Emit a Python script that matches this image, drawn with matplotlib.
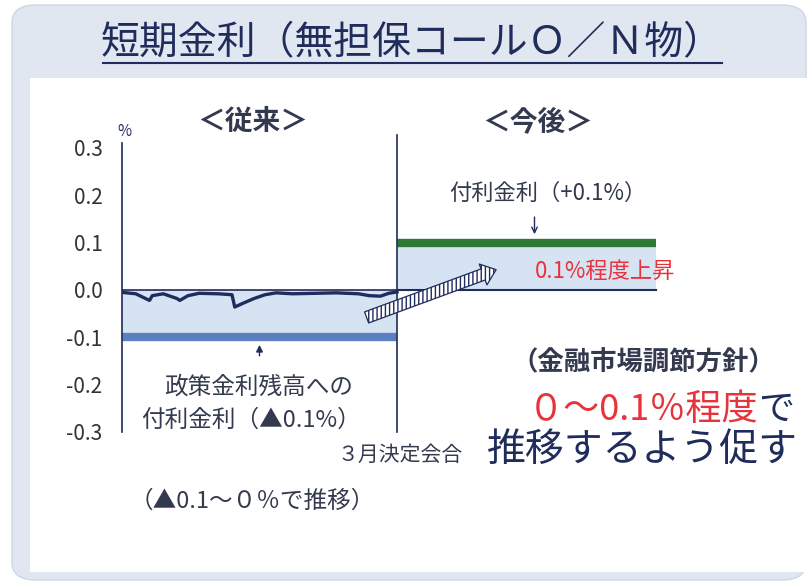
import matplotlib
matplotlib.use("Agg")
import matplotlib.pyplot as plt
from matplotlib.patches import FancyBboxPatch, Rectangle

plt.rcParams['font.family'] = ['Noto Sans CJK JP', 'DejaVu Sans']

# data: left period = 従来 (index 0-100), right period = 今後 (100-194)
old_x = [0, 5, 10, 11, 15, 20, 21, 24, 28, 35, 40, 41, 44, 48, 52, 56, 62, 70, 78, 86, 90, 94, 97, 100]
old_rate = [-0.005, -0.008, -0.022, -0.012, -0.008, -0.018, -0.022, -0.012, -0.007, -0.008, -0.010,
            -0.036, -0.028, -0.018, -0.010, -0.006, -0.008, -0.007, -0.006, -0.008, -0.012, -0.013,
            -0.007, -0.004]
old_start, old_end = 0, 100
new_start, new_end = 100, 194
old_ioer = -0.1      # 政策金利残高への付利金利
old_top = 0.0
new_ioer = 0.1       # 付利金利
new_floor = 0.0
yticks = [-0.3, -0.2, -0.1, 0.0, 0.1, 0.2, 0.3]
ytick_labels = ['-0.3', '-0.2', '-0.1', '0.0', '0.1', '0.2', '0.3']

navy = '#1f2c5c'
text_col = '#333a4f'
fill_blue = '#d6e3f2'
band_blue = '#5b7fc0'
green = '#2e7a34'
red = '#e8323c'

W, H = 808, 582
fig = plt.figure(figsize=(W / 100, H / 100), dpi=100)


def fx(x):
    return x / W


def fy(y):
    return 1 - y / H


# card background
card = FancyBboxPatch((fx(12), fy(580)), fx(794), 575 / H,
                      boxstyle='round,pad=0,rounding_size=0.03',
                      transform=fig.transFigure, fc='#e0e7f1', ec='#cdd6e3', lw=1, zorder=-2)
fig.patches.append(card)
fig.patches.append(Rectangle((fx(30), fy(572)), fx(778), 494 / H,
                             transform=fig.transFigure, fc='white', ec='none', zorder=-1))

# title
fig.text(fx(412), fy(43), '短期金利（無担保コールＯ／Ｎ物）', ha='center', va='center',
         fontsize=28, color=navy)
fig.lines.append(plt.Line2D([fx(103), fx(722)], [fy(63), fy(63)], transform=fig.transFigure,
                            color=navy, lw=1.5))

ax = fig.add_axes([fx(122), fy(432), 210 * 2.75 / W, 284 / H])
ax.set_facecolor('none')
ax.set_xlim(0, 210)
ax.set_ylim(-0.3, 0.3)

# old regime
ax.fill_between([old_start, old_end], old_ioer, old_top, color=fill_blue, lw=0)
ax.plot([old_start, old_end], [old_top, old_top], color=navy, lw=1.2)
ax.plot([old_start, old_end], [old_ioer, old_ioer], color=band_blue, lw=6, solid_capstyle='butt')
ax.plot(old_x, old_rate, color=navy, lw=2.4)

# new regime
ax.fill_between([new_start, new_end], new_floor, new_ioer, color=fill_blue, lw=0)
ax.plot([new_start, new_end], [new_floor, new_floor], color=navy, lw=1.5)
ax.plot([new_start, new_end], [new_ioer, new_ioer], color=green, lw=6, solid_capstyle='butt')

# divider
ax.plot([new_start, new_start], [-0.3, 0.327], color=navy, lw=1.2, clip_on=False)

# hatched arrow
ax.annotate('', xy=(137, 0.045), xytext=(88, -0.06),
            arrowprops=dict(arrowstyle='simple,head_length=1.0,head_width=1.6,tail_width=0.85',
                            mutation_scale=10, fc='white', ec=navy, lw=0.9, hatch='||||'),
            zorder=5)

# small arrows
ax.annotate('', xy=(150, 0.112), xytext=(150, 0.16),
            arrowprops=dict(arrowstyle='->', color=navy, lw=1))
ax.annotate('', xy=(50, -0.11), xytext=(50, -0.145),
            arrowprops=dict(arrowstyle='-|>', color=navy, lw=1, mutation_scale=10))

ax.set_yticks(yticks)
ax.set_yticklabels(ytick_labels)
ax.set_xticks([])
ax.tick_params(axis='y', length=0, pad=14, labelsize=15, labelcolor='#333333')
for s in ['top', 'right', 'bottom']:
    ax.spines[s].set_visible(False)
ax.spines['left'].set_color(navy)
ax.spines['left'].set_linewidth(1.2)
ax.spines['left'].set_bounds(-0.3, 0.31)

# texts
fig.text(fx(124), fy(131), '%', ha='center', va='center', fontsize=11, color=navy)
fig.text(fx(253), fy(122), '＜従来＞', ha='center', va='center', fontsize=20,
         fontweight='bold', color=text_col)
fig.text(fx(538), fy(122), '＜今後＞', ha='center', va='center', fontsize=20,
         fontweight='bold', color=text_col)
fig.text(fx(548), fy(193), '付利金利（+0.1%）', ha='center', va='center', fontsize=16,
         color=text_col)
fig.text(fx(605), fy(271), '0.1%程度上昇', ha='center', va='center', fontsize=16,
         color=red)
fig.text(fx(259), fy(387), '政策金利残高への', ha='center', va='center', fontsize=17,
         color=text_col)
fig.text(fx(251), fy(420), '付利金利（▲0.1%）', ha='center', va='center', fontsize=17,
         color=text_col)
fig.text(fx(400), fy(455), '３月決定会合', ha='center', va='center', fontsize=15,
         color=text_col)
fig.text(fx(252), fy(501), '（▲0.1～０％で推移）', ha='center', va='center', fontsize=17,
         color=text_col)
fig.text(fx(643), fy(363), '（金融市場調節方針）', ha='center', va='center', fontsize=19,
         fontweight='bold', color=text_col)
fig.text(fx(758), fy(410), '０～0.1％程度', ha='right', va='center', fontsize=26,
         color=red)
fig.text(fx(758), fy(410), 'で', ha='left', va='center', fontsize=26, color=navy)
fig.text(fx(642), fy(450), '推移するよう促す', ha='center', va='center', fontsize=28,
         color=navy)

fig.savefig('out.png', dpi=100)
